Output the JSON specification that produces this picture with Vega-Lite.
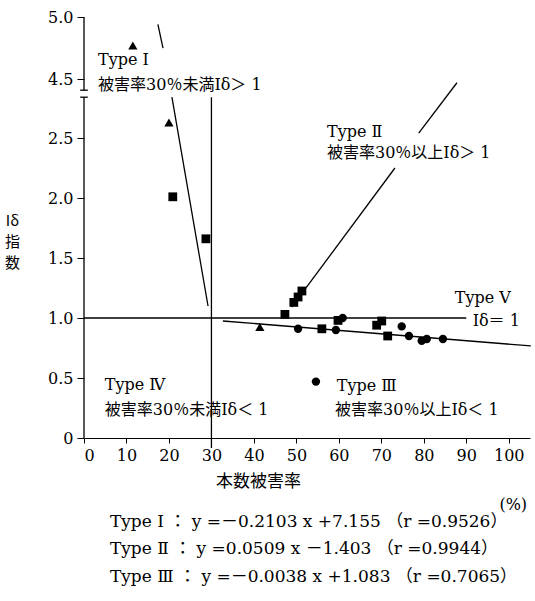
{
  "$schema": "https://vega.github.io/schema/vega-lite/v6.json",
  "autosize": "none",
  "width": 446,
  "height": 421,
  "padding": {"left": 84, "top": 17, "right": 5, "bottom": 163},
  "background": "white",
  "config": {
    "view": {"stroke": null},
    "font": "DejaVu Serif, Noto Sans CJK JP",
    "axis": {"labelFont": "DejaVu Serif", "labelColor": "black", "tickColor": "black", "domainColor": "black", "grid": false}
  },
  "datasets": {
    "pts": [
      {"x": 11.5, "y": 4.77, "type": "tri"},
      {"x": 20.0, "y": 2.63, "type": "tri"},
      {"x": 41.4, "y": 0.925, "type": "tri"},
      {"x": 20.9, "y": 2.01, "type": "sq"},
      {"x": 28.7, "y": 1.66, "type": "sq"},
      {"x": 47.3, "y": 1.03, "type": "sq"},
      {"x": 49.4, "y": 1.13, "type": "sq"},
      {"x": 50.4, "y": 1.175, "type": "sq"},
      {"x": 51.3, "y": 1.225, "type": "sq"},
      {"x": 56.0, "y": 0.91, "type": "sq"},
      {"x": 59.8, "y": 0.98, "type": "sq"},
      {"x": 68.9, "y": 0.94, "type": "sq"},
      {"x": 70.1, "y": 0.975, "type": "sq"},
      {"x": 71.5, "y": 0.85, "type": "sq"},
      {"x": 50.4, "y": 0.91, "type": "ci"},
      {"x": 59.3, "y": 0.9, "type": "ci"},
      {"x": 60.9, "y": 1.0, "type": "ci"},
      {"x": 74.8, "y": 0.93, "type": "ci"},
      {"x": 76.5, "y": 0.85, "type": "ci"},
      {"x": 79.5, "y": 0.81, "type": "ci"},
      {"x": 80.7, "y": 0.825, "type": "ci"},
      {"x": 84.5, "y": 0.825, "type": "ci"},
      {"x": 54.6, "y": 0.47, "type": "ci"}
    ],
    "segs": [
      {"name": "axisLow", "x": 0, "y": 0, "x2": 0, "y2": 2.84},
      {"name": "axisHigh", "x": 0, "y": 4.41, "x2": 0, "y2": 5.0},
      {"name": "break1", "x": -0.9, "y": 2.84, "x2": 0.9, "y2": 2.84},
      {"name": "break2", "x": -0.9, "y": 4.41, "x2": 0.9, "y2": 4.41},
      {"name": "T1a", "x": 17.4, "y": 4.94, "x2": 18.6, "y2": 4.75},
      {"name": "T1b", "x": 20.7, "y": 2.84, "x2": 29.2, "y2": 1.1},
      {"name": "T2a", "x": 78.8, "y": 2.54, "x2": 87.8, "y2": 4.47},
      {"name": "T2b", "x": 48.9, "y": 1.09, "x2": 73.2, "y2": 2.25},
      {"name": "T3", "x": 32.7, "y": 0.975, "x2": 105.2, "y2": 0.767},
      {"name": "V30", "x": 30, "y": 2.84, "x2": 30, "y2": -0.083},
      {"name": "H1", "x": 0, "y": 1, "x2": 90, "y2": 1}
    ],
    "labels": [
      {"x": 3.3, "y": 4.65, "label": "Type Ⅰ"},
      {"x": 3.3, "y": 4.45, "label": "被害率30％未満Iδ＞ 1"},
      {"x": 57.2, "y": 2.55, "label": "Type Ⅱ"},
      {"x": 57.2, "y": 2.375, "label": "被害率30％以上Iδ＞ 1"},
      {"x": 87.3, "y": 1.167, "label": "Type Ⅴ"},
      {"x": 91.5, "y": 0.975, "label": "Iδ＝ 1"},
      {"x": 4.9, "y": 0.44, "label": "Type Ⅳ"},
      {"x": 4.9, "y": 0.233, "label": "被害率30％未満Iδ＜ 1"},
      {"x": 59.5, "y": 0.433, "label": "Type Ⅲ"},
      {"x": 59.1, "y": 0.233, "label": "被害率30％以上Iδ＜ 1"},
      {"x": 97.8, "y": -0.56, "label": "(%)"}
    ],
    "eqs": [
      {"x": 6.1, "y": -0.7, "label": "Type Ⅰ ： y =－0.2103 x +7.155 （r =0.9526）"},
      {"x": 6.1, "y": -0.925, "label": "Type Ⅱ ： y =0.0509 x －1.403 （r =0.9944）"},
      {"x": 6.1, "y": -1.16, "label": "Type Ⅲ ： y =－0.0038 x +1.083 （r =0.7065）"}
    ]
  },
  "encoding": {
    "x": {
      "field": "x", "type": "quantitative",
      "scale": {"domain": [0, 105], "nice": false, "zero": false},
      "axis": {
        "values": [0, 10, 20, 30, 40, 50, 60, 70, 80, 90, 100],
        "labelFontSize": 16, "tickSize": 5, "labelPadding": 4,
        "title": "本数被害率", "titleFont": "Noto Sans CJK JP", "titleFontWeight": "normal",
        "titleFontSize": 17, "titleColor": "black", "titleX": 174, "titleAlign": "center", "titlePadding": 10
      }
    },
    "y": {
      "field": "y", "type": "quantitative",
      "scale": {"domain": [0, 2.84, 4.41, 5.0], "range": [421, 80.2, 73.2, 0], "nice": false, "zero": false},
      "axis": {
        "values": [0, 0.5, 1, 1.5, 2, 2.5, 4.5, 5],
        "labelExpr": "datum.value == 0 ? '0' : format(datum.value, '.1f')",
        "labelFontSize": 16, "tickSize": 7, "labelPadding": 4, "domain": false,
        "title": ["Iδ", "指", "数"], "titleAngle": 0, "titleFont": "Noto Sans CJK JP",
        "titleFontWeight": "normal", "titleFontSize": 15, "titleColor": "black",
        "titleLineHeight": 21, "titleAlign": "center", "titleBaseline": "top",
        "titleX": -72, "titleY": 196
      }
    }
  },
  "layer": [
    {
      "data": {"name": "segs"},
      "mark": {"type": "rule", "color": "black", "strokeWidth": 1.3},
      "encoding": {
        "x2": {"field": "x2"},
        "y2": {"field": "y2"}
      }
    },
    {
      "data": {"name": "pts"},
      "mark": {"type": "point", "filled": true, "color": "black", "opacity": 1},
      "encoding": {
        "shape": {"field": "type", "type": "nominal", "scale": {"domain": ["tri", "sq", "ci"], "range": ["triangle-up", "square", "circle"]}, "legend": null},
        "size": {"field": "type", "type": "ordinal", "scale": {"domain": ["tri", "sq", "ci"], "range": [85, 70, 55]}, "legend": null}
      }
    },
    {
      "data": {"name": "labels"},
      "mark": {"type": "text", "align": "left", "baseline": "middle", "fontSize": 16, "color": "black", "font": "DejaVu Serif, Noto Sans CJK JP"},
      "encoding": {"text": {"field": "label"}}
    },
    {
      "data": {"name": "eqs"},
      "mark": {"type": "text", "align": "left", "baseline": "middle", "fontSize": 17, "color": "black", "font": "DejaVu Serif, Noto Sans CJK JP"},
      "encoding": {"text": {"field": "label"}}
    }
  ]
}
